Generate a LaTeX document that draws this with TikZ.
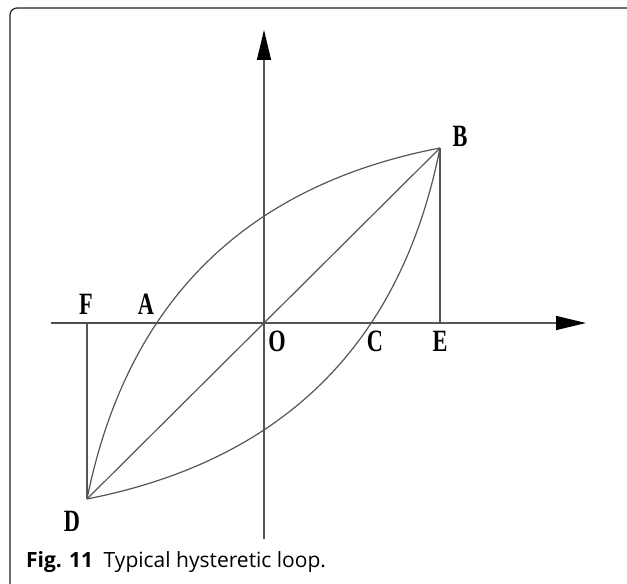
\documentclass[tikz,border=0pt]{standalone}
\usepackage{fontspec}
\usetikzlibrary{arrows.meta, positioning}
\newfontfamily\lblfont[FakeStretch=0.72]{Liberation Serif}
\newfontfamily\capfont{Open Sans}
\definecolor{cline}{HTML}{555555}
\definecolor{cframe}{HTML}{222222}
\tikzset{
  curve/.style={cline, line width=1.2pt},
  axis/.style={cline, line width=1.4pt},
  axistip/.style={-{Triangle[length=30pt, width=14pt, black]}},
  ptlabel/.style={font=\lblfont\bfseries\fontsize{31}{31}\selectfont, anchor=base, inner sep=0pt},
}

\begin{document}
\begin{tikzpicture}[x=1pt, y=1pt]
  \useasboundingbox (0,0) rectangle (627,584);
  \clip (0,0) rectangle (627,584);
  \draw[cframe, line width=1.2pt, rounded corners=7pt] (10,-6) rectangle (660,576);

  % points of the loop
  \coordinate (O) at (264,261);
  \coordinate (B) at (440,436);
  \coordinate (D) at (87,85);
  \coordinate (E) at (440,261);
  \coordinate (F) at (87,261);
  \coordinate (xl) at (51,261);
  \coordinate (xr) at (586,261);
  \coordinate (yb) at (264,45);
  \coordinate (yt) at (264,554);

  % axes
  \draw[axis, line width=2pt, cframe!80] (xl) -- (O);
  \draw[axis, axistip] (O) -- (xr);
  \draw[axis, axistip] (yb) -- (yt);

  % loop
  \draw[curve] (D) .. controls (126.7,281) and (244,398.3) .. (B);
  \draw[curve] (D) .. controls (284,123.7) and (401.3,241) .. (B);
  \draw[curve] (D) -- (B);
  \draw[curve] (B) -- (E);
  \draw[curve] (F) -- (D);

  \node[ptlabel] (lB) at (460,437) {B};
  \node[ptlabel] (lF) at (86,269) {F};
  \node[ptlabel] (lA) at (146,269) {A};
  \node[ptlabel] (lO) at (277,232) {O};
  \node[ptlabel] (lC) at (375,232) {C};
  \node[ptlabel] (lE) at (440,232) {E};
  \node[ptlabel] (lD) at (72,52) {D};

  \node[anchor=base west, inner sep=0pt, font=\capfont\fontsize{21}{21}\selectfont] (cap) at (26,16)
    {\textbf{Fig. 11}\hspace{0.5em}Typical hysteretic loop.};
\end{tikzpicture}
\end{document}
